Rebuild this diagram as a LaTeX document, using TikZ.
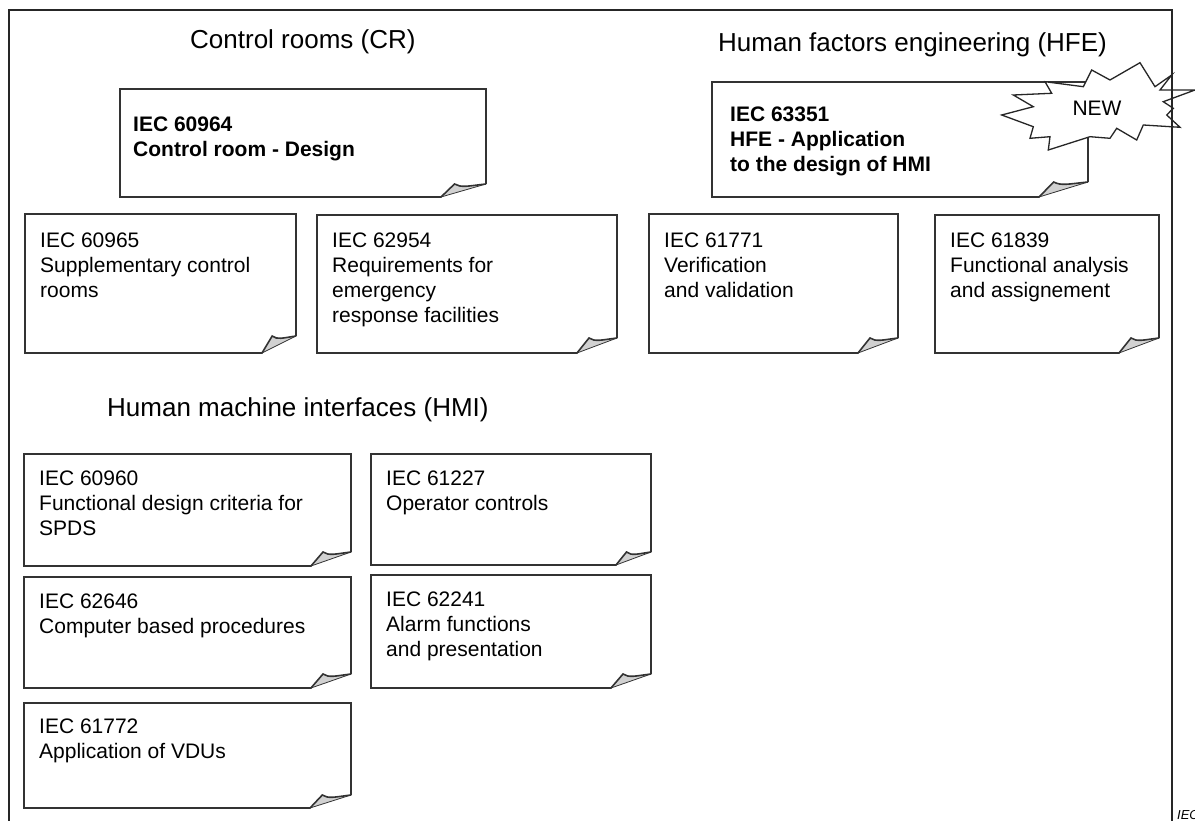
\documentclass[tikz,border=0pt]{standalone}
\usepackage{fontspec}
\setmainfont{Liberation Sans}
\begin{document}
\begin{tikzpicture}[x=1pt,y=-1pt,
  edge/.style={draw=black!80, line width=1.6pt, line join=miter},
  boxtext/.style={anchor=north west, inner sep=0pt, align=left, font=\fontsize{21}{25}\selectfont},
  boldtext/.style={boxtext, font=\fontsize{21}{25}\selectfont\bfseries},
  title/.style={anchor=base west, inner sep=0pt, font=\fontsize{26}{30}\selectfont},
]
\useasboundingbox (0,0) rectangle (1195,821);
\fill[white] (0,0) rectangle (1195,821);

% #1 x1, #2 y1, #3 x2, #4 y2, #5 fold dx, #6 fold dy
\newcommand{\docbox}[6]{%
  \fill[black!18] (#3-#5,#4) -- (#3-#5+0.3*#5,#4-#6)
     .. controls (#3-#5+0.45*#5,#4-#6+4) and (#3-#5+0.6*#5,#4-#6+2) .. (#3,#4-#6) -- cycle;
  \draw[black!80, line width=0.8pt] (#3-#5,#4) -- (#3,#4-#6);
  \draw[edge] (#3,#4-#6) -- (#3,#2) -- (#1,#2) -- (#1,#4) -- (#3-#5,#4)
     -- (#3-#5+0.3*#5,#4-#6)
     .. controls (#3-#5+0.45*#5,#4-#6+4) and (#3-#5+0.6*#5,#4-#6+2) .. (#3,#4-#6);
}

% titles
\node[title] (tcr) at (190,49) {Control rooms (CR)};
\node[title] (thfe) at (718,52) {Human factors engineering (HFE)};
\node[title] (thmi) at (107,416) {Human machine interfaces (HMI)};

% CR
\docbox{120}{89}{486}{197}{45}{13}
\node[boldtext] (b60964) at (133,117) {IEC 60964\\Control room - Design};
\docbox{25}{214}{296}{353}{34}{17}
\node[boxtext] (b60965) at (40,233) {IEC 60965\\Supplementary control\\rooms};
\docbox{317}{215}{617}{353}{40}{15}
\node[boxtext] (b62954) at (332,233) {IEC 62954\\Requirements for\\emergency\\response facilities};

% HFE
\docbox{712}{82}{1088}{197}{49}{15}
\node[boldtext] (b63351) at (730,107) {IEC 63351\\HFE - Application\\to the design of HMI};
\docbox{649}{214}{898}{353}{40}{15}
\node[boxtext] (b61771) at (664,233) {IEC 61771\\Verification\\and validation};
\docbox{935}{215}{1159}{353}{40}{15}
\node[boxtext] (b61839) at (950,233) {IEC 61839\\Functional analysis\\and assignement};

% HMI
\docbox{24}{454}{351}{566}{40}{14}
\node[boxtext] (b60960) at (39,471) {IEC 60960\\Functional design criteria for\\SPDS};
\docbox{371}{454}{651}{565}{35}{13}
\node[boxtext] (b61227) at (386,471) {IEC 61227\\Operator controls};
\docbox{24}{577}{351}{688}{40}{14}
\node[boxtext] (b62646) at (39,594) {IEC 62646\\Computer based procedures};
\docbox{371}{575}{651}{688}{40}{14}
\node[boxtext] (b62241) at (386,592) {IEC 62241\\Alarm functions\\and presentation};
\docbox{24}{703}{351}{808}{41}{13}
\node[boxtext] (b61772) at (39,719) {IEC 61772\\Application of VDUs};

% NEW burst
\draw[fill=white, draw=black!85, line width=1.3pt, line join=miter]
  (1001.7,115) -- (1033.3,106.7) -- (1013.3,95) -- (1051.7,93.3) -- (1045,81.7)
  -- (1083.3,86.7) -- (1091.7,70) -- (1110,80) -- (1140,62.7) -- (1155,86.7)
  -- (1171.7,75) -- (1160,90) -- (1195,90) -- (1163.3,101.7) -- (1173.3,108.3)
  -- (1166.7,115) -- (1180,127.3) -- (1143.3,125) -- (1136.7,140) -- (1116.7,128.3)
  -- (1110,138.3) -- (1090,136.7) -- (1048.3,150) -- (1050,136.7) -- (1030,138.3)
  -- (1033.3,126.7) -- cycle;
\node[anchor=base, inner sep=0pt, font=\fontsize{21}{24}\selectfont] (new) at (1097,116) {NEW};

% frame
\draw[black!85, line width=2pt, line join=miter] (9,830) -- (9,10) -- (1172,10) -- (1172,830);
\node[anchor=base west, inner sep=0pt, font=\fontsize{13}{15}\selectfont\itshape] (iec) at (1177,819) {IEC};
\end{tikzpicture}
\end{document}
